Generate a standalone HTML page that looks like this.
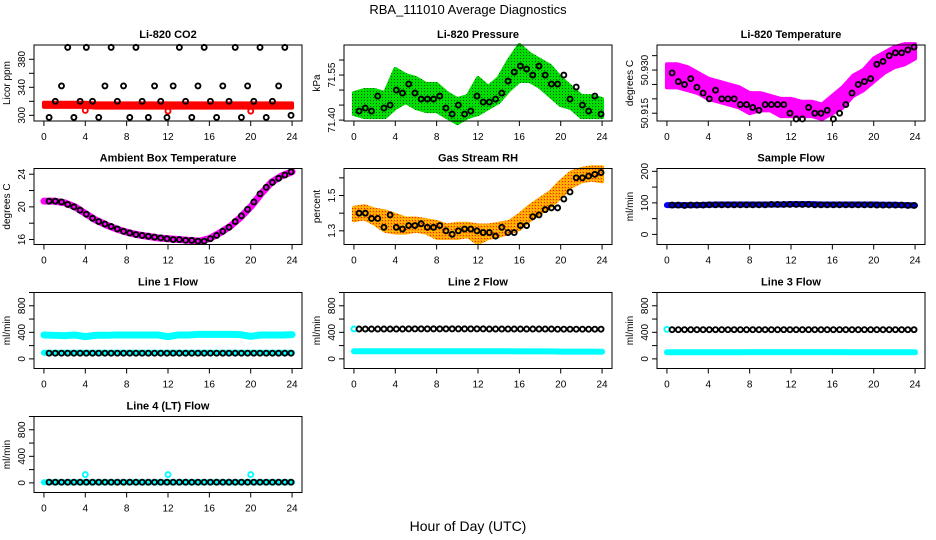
<!DOCTYPE html>
<html><head><meta charset="utf-8"><style>
html,body{margin:0;padding:0;background:#fff}
svg{display:block}
text{font-family:"Liberation Sans",sans-serif;fill:#000}
</style></head><body>
<svg id="chart" width="936" height="540" viewBox="0 0 936 540" xmlns="http://www.w3.org/2000/svg">
<defs>
<pattern id="pg" width="3" height="3" patternUnits="userSpaceOnUse"><rect width="3" height="3" fill="#00dd00"/><rect x="1" y="1" width="1" height="1" fill="#005500"/></pattern>
<pattern id="po" width="3" height="3" patternUnits="userSpaceOnUse"><rect width="3" height="3" fill="#ffa500"/><rect x="1" y="1" width="1" height="1" fill="#ff2000"/><rect x="2" y="0" width="1" height="1" fill="#ffd000"/></pattern>
</defs>
<text x="468" y="14" text-anchor="middle" font-size="13">RBA_111010  Average Diagnostics</text>
<text x="468" y="531" text-anchor="middle" font-size="14">Hour of Day (UTC)</text>
</svg>
<script>
// ---- data ----
const hours40 = [0.5,1.1,1.7,2.3,2.9,3.5,4.1,4.7,5.3,5.9,6.5,7.1,7.7,8.3,8.9,9.5,10.1,10.7,11.3,11.9,12.5,13.1,13.7,14.3,14.9,15.5,16.1,16.7,17.3,17.9,18.5,19.1,19.7,20.3,20.9,21.5,22.1,22.7,23.3,23.9];
const hours25 = [0,1,2,3,4,5,6,7,8,9,10,11,12,13,14,15,16,17,18,19,20,21,22,23,24];
const xTicks = [0,4,8,12,16,20,24];

const co2Black = [297,320,342,397,297,320,397,320,297,342,397,320,342,297,397,320,297,342,320,297,342,397,320,297,342,397,320,297,342,320,397,297,342,320,397,297,320,342,397,300];
const co2Lower = [312,312,312,312,312,311,311,311,311,311,311,311,311,311,311,311,311,311,311,311,311,311,311,311,311];
const co2Upper = [318,318,318,318,318,317,317,317,317,317,317,317,317,317,317,317,317,317,317,317,317,317,317,317,317];
const co2OutlierH = [4,12,20];
const co2OutlierV = [307,306,306];

const presBlack = [71.43,71.44,71.43,71.48,71.44,71.45,71.50,71.49,71.52,71.49,71.47,71.47,71.47,71.48,71.44,71.42,71.45,71.42,71.43,71.48,71.46,71.46,71.47,71.49,71.53,71.56,71.58,71.57,71.55,71.58,71.55,71.52,71.52,71.55,71.47,71.51,71.45,71.43,71.48,71.42];
const presLower = [71.42,71.41,71.41,71.41,71.44,71.46,71.44,71.43,71.43,71.41,71.39,71.41,71.42,71.44,71.46,71.50,71.53,71.53,71.51,71.48,71.45,71.44,71.41,71.41,71.41];
const presUpper = [71.49,71.50,71.50,71.49,71.57,71.55,71.54,71.52,71.52,71.49,71.47,71.48,71.54,71.51,71.54,71.60,71.65,71.62,71.60,71.58,71.54,71.51,71.48,71.48,71.47];

const tempBlack = [50.929,50.926,50.925,50.927,50.924,50.922,50.920,50.923,50.920,50.920,50.920,50.918,50.918,50.917,50.916,50.918,50.918,50.918,50.918,50.915,50.913,50.913,50.917,50.915,50.915,50.916,50.913,50.915,50.918,50.922,50.925,50.926,50.927,50.932,50.933,50.935,50.936,50.936,50.937,50.938];
const tempLower = [50.924,50.924,50.923,50.922,50.920,50.919,50.918,50.917,50.915,50.916,50.916,50.914,50.914,50.914,50.914,50.913,50.915,50.917,50.921,50.923,50.926,50.929,50.931,50.932,50.934];
const tempUpper = [50.932,50.932,50.931,50.929,50.927,50.926,50.925,50.924,50.922,50.922,50.921,50.920,50.920,50.919,50.919,50.918,50.921,50.924,50.928,50.930,50.934,50.936,50.938,50.939,50.939];

const ambBlack = [20.7,20.7,20.6,20.3,20.0,19.6,19.1,18.6,18.2,17.9,17.6,17.3,17.0,16.8,16.6,16.5,16.4,16.3,16.2,16.1,16.0,16.0,15.9,15.9,15.8,15.8,16.1,16.5,17.0,17.5,18.2,18.9,19.7,20.6,21.6,22.4,23.0,23.5,23.9,24.3];
const ambLine = [20.7,20.7,20.5,20.0,19.2,18.4,17.8,17.3,16.9,16.6,16.4,16.2,16.1,16.0,15.9,15.8,16.1,16.8,17.6,18.7,20.0,21.6,23.0,23.8,24.3];

const rhBlack = [1.40,1.40,1.37,1.37,1.32,1.39,1.32,1.31,1.33,1.33,1.34,1.32,1.32,1.33,1.30,1.28,1.30,1.31,1.31,1.30,1.29,1.29,1.27,1.32,1.29,1.29,1.33,1.33,1.38,1.39,1.42,1.43,1.43,1.48,1.52,1.60,1.60,1.61,1.62,1.63];
const rhLower = [1.36,1.37,1.34,1.30,1.29,1.29,1.30,1.29,1.26,1.26,1.26,1.27,1.23,1.26,1.27,1.29,1.31,1.36,1.40,1.44,1.49,1.55,1.58,1.59,1.58];
const rhUpper = [1.43,1.44,1.42,1.41,1.39,1.37,1.37,1.36,1.35,1.33,1.34,1.34,1.33,1.33,1.34,1.35,1.39,1.44,1.48,1.52,1.58,1.63,1.65,1.66,1.66];

const sampleBlack = [93,93,92,93,93,93,94,94,94,94,94,94,94,94,94,94,95,95,95,95,95,95,95,94,94,94,94,94,94,94,94,94,94,93,93,93,93,93,92,92];
const sampleBlue = [93,93,93,93,94,95,95,95,95,95,95,95,96,96,96,95,95,95,95,95,95,94,94,93,92];

const l1Black = [85,85,85,85,85,85,85,85,85,85,85,85,85,85,85,85,85,85,85,85,85,85,85,85,85,85,85,85,85,85,85,85,85,85,85,85,85,85,85,85];
const l1CyanHigh = [360,355,350,360,335,355,355,360,360,360,360,360,335,360,360,370,370,370,370,365,340,360,360,360,365];
const l1CyanLow = [92,92,92,92,92,92,92,92,92,92,92,92,92,92,92,92,92,92,92,92,92,92,92,92,92];

const l2Black = [450,450,450,450,450,450,450,450,452,452,452,452,452,452,452,452,452,452,452,452,452,450,450,450,450,450,450,450,450,450,450,450,448,448,448,448,448,448,448,448];
const l2Cyan = [115,115,115,115,115,115,115,115,115,115,115,115,115,115,115,115,113,113,113,113,110,110,110,110,108];
const l2CyanStart = [450];

const l3Black = [440,440,440,440,440,440,440,440,440,440,440,440,440,440,440,440,440,440,440,440,440,440,440,440,440,440,440,440,440,440,440,440,440,440,440,440,440,440,440,440];
const l3Cyan = [100,100,100,100,100,100,100,100,102,102,102,102,102,102,102,102,102,102,100,100,100,100,100,100,100];
const l3CyanStart = [445];

const l4Black = [10,10,10,10,10,10,10,10,10,10,10,10,10,10,10,10,10,10,10,10,10,10,10,10,10,10,10,10,10,10,10,10,10,10,10,10,10,10,10,10];
const l4Cyan = [10,10,10,10,10,10,10,10,10,10,10,10,10,10,10,10,10,10,10,10,10,10,10,10,10];
const l4OutlierH = [4,12,20];
const l4OutlierV = [125,125,125];

// ---- drawing ----
const NS = "http://www.w3.org/2000/svg";
const svg = document.getElementById('chart');
const colL = [34,344,657], rowT = [45,168.5,292.5,416.5], PW = 268, PH = 76;

function mk(tag, attrs, parent){
  const e = document.createElementNS(NS, tag);
  for (const k in attrs) e.setAttribute(k, attrs[k]);
  parent.appendChild(e);
  return e;
}
function makePanel(cfg){
  const L = colL[cfg.c], T = rowT[cfg.r];
  const g = mk('g', {}, svg);
  
  
  const x = h => L + (h + 0.96) * PW / 25.92;
  const y = v => T + PH - (v - cfg.d[0]) / (cfg.d[1] - cfg.d[0]) * PH;
  const t = mk('text', {x: L + PW/2, y: T - 7, 'text-anchor':'middle', 'font-size':11, 'font-weight':'bold'}, g);
  t.textContent = cfg.title;
  
  
  const yl = mk('text', {x:0, y:0, transform:`translate(${L-24},${T+PH/2}) rotate(-90)`, 'text-anchor':'middle', 'font-size':10}, g);
  yl.textContent = cfg.ylab;
  
  
  xTicks.forEach(h => {
    mk('line', {x1:x(h), x2:x(h), y1:T+PH, y2:T+PH+5, stroke:'#000'}, g);
    const tx = mk('text', {x:x(h), y:T+PH+19, 'text-anchor':'middle', 'font-size':10}, g);
    tx.textContent = h;
    
    
  });
  cfg.yt.forEach(v => {
    mk('line', {x1:L-5, x2:L, y1:y(v), y2:y(v), stroke:'#000'}, g);
  });
  cfg.yl.forEach(v => {
    const tx = mk('text', {x:0, y:0, transform:`translate(${L-9},${y(v)}) rotate(-90)`, 'text-anchor':'middle', 'font-size':10}, g);
    tx.textContent = cfg.fmt ? v.toFixed(cfg.fmt) : v;
    
    
  });
  const plot = mk('g', {}, g);
  
  
  mk('rect', {x:L, y:T, width:PW, height:PH, fill:'none', stroke:'#000'}, g);
  return {g: plot, x, y};
}
function band(p, hs, lo, hi, fill, name){
  let pts = hs.map((h,i)=>p.x(h)+','+p.y(hi[i]));
  pts = pts.concat(hs.map((h,i)=>p.x(h)+','+p.y(lo[i])).reverse());
  const e = mk('polygon', {points:pts.join(' '), fill:fill, stroke:fill, 'stroke-width':4, 'stroke-linejoin':'round'}, p.g);
  
  
}
function line(p, hs, vs, color, w, name){
  const e = mk('polyline', {points:hs.map((h,i)=>p.x(h)+','+p.y(vs[i])).join(' '), fill:'none', stroke:color, 'stroke-width':w, 'stroke-linecap':'round', 'stroke-linejoin':'round'}, p.g);
  
  
}
function pts(p, hs, vs, color, name){
  hs.forEach((h,i)=>{
    const e = mk('circle', {cx:p.x(h), cy:p.y(vs[i]), r:2.5, fill:'none', stroke:color, 'stroke-width':1.9}, p.g);
    
    
  });
}

let p;
p = makePanel({name:'co2-panel', c:0, r:0, title:'Li-820 CO2', ylab:'Licor ppm', d:[291.9,400.4], yt:[300,320,340,360,380], yl:[300,340,380]});
band(p, hours25, co2Lower, co2Upper, '#ff0000', 'co2-band');
pts(p, co2OutlierH, co2OutlierV, '#ff0000', 'co2-outlier');
pts(p, hours40, co2Black, '#000', 'co2-point');

p = makePanel({name:'pressure-panel', c:1, r:0, title:'Li-820 Pressure', ylab:'kPa', d:[71.397,71.65], yt:[71.40,71.45,71.50,71.55,71.60], yl:[71.40,71.55], fmt:2});
band(p, hours25, presLower, presUpper, 'url(#pg)', 'pressure-band');
pts(p, hours40, presBlack, '#000', 'pressure-point');

p = makePanel({name:'temperature-panel', c:2, r:0, title:'Li-820 Temperature', ylab:'degrees C', d:[50.9123,50.9387], yt:[50.915,50.920,50.925,50.930,50.935], yl:[50.915,50.930], fmt:3});
band(p, hours25, tempLower, tempUpper, '#ff00ff', 'temperature-band');
pts(p, hours40, tempBlack, '#000', 'temperature-point');

p = makePanel({name:'ambient-panel', c:0, r:1, title:'Ambient Box Temperature', ylab:'degrees C', d:[15.39,24.7], yt:[16,18,20,22,24], yl:[16,20,24]});
line(p, hours25, ambLine, '#ff00ff', 7, 'ambient-line');
pts(p, hours40, ambBlack, '#000', 'ambient-point');

p = makePanel({name:'rh-panel', c:1, r:1, title:'Gas Stream RH', ylab:'percent', d:[1.2225,1.653], yt:[1.3,1.4,1.5,1.6], yl:[1.3,1.5], fmt:1});
band(p, hours25, rhLower, rhUpper, 'url(#po)', 'rh-band');
pts(p, hours40, rhBlack, '#000', 'rh-point');

p = makePanel({name:'sample-flow-panel', c:2, r:1, title:'Sample Flow', ylab:'ml/min', d:[-32,209], yt:[0,50,100,150,200], yl:[0,100,200]});
line(p, hours25, sampleBlue, '#0000ff', 6, 'sample-line');
pts(p, hours40, sampleBlack, '#000', 'sample-point');

const flowCfg = {d:[-145,1000], yt:[0,200,400,600,800,1000], yl:[0,400,800]};
p = makePanel(Object.assign({name:'line1-panel', c:0, r:2, title:'Line 1 Flow', ylab:'ml/min'}, flowCfg));
line(p, hours25, l1CyanHigh, '#00ffff', 7, 'line1-cyan-high');
line(p, hours25, l1CyanLow, '#00ffff', 6, 'line1-cyan-low');
pts(p, hours40, l1Black, '#000', 'line1-point');

p = makePanel(Object.assign({name:'line2-panel', c:1, r:2, title:'Line 2 Flow', ylab:'ml/min'}, flowCfg));
line(p, hours25, l2Cyan, '#00ffff', 6, 'line2-cyan');
pts(p, [0], l2CyanStart, '#00ffff', 'line2-cyan-start');
pts(p, hours40, l2Black, '#000', 'line2-point');

p = makePanel(Object.assign({name:'line3-panel', c:2, r:2, title:'Line 3 Flow', ylab:'ml/min'}, flowCfg));
line(p, hours25, l3Cyan, '#00ffff', 6, 'line3-cyan');
pts(p, [0], l3CyanStart, '#00ffff', 'line3-cyan-start');
pts(p, hours40, l3Black, '#000', 'line3-point');

p = makePanel(Object.assign({name:'line4-panel', c:0, r:3, title:'Line 4 (LT) Flow', ylab:'ml/min'}, flowCfg));
line(p, hours25, l4Cyan, '#00ffff', 6, 'line4-cyan');
pts(p, l4OutlierH, l4OutlierV, '#00ffff', 'line4-outlier');
pts(p, hours40, l4Black, '#000', 'line4-point');
</script>
</body></html>
